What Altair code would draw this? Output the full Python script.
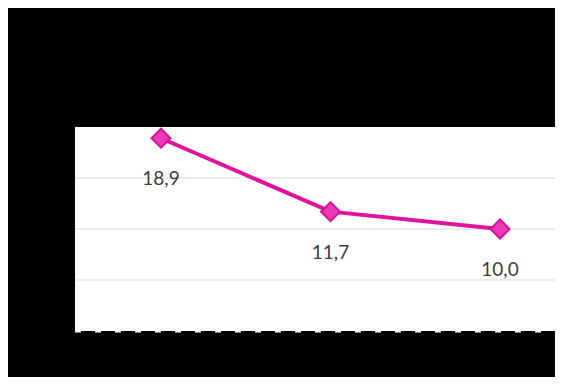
import altair as alt
import pandas as pd

categories = ["1", "2", "3"]
values = [18.9, 11.7, 10.0]
grid_values = [5, 10, 15]

df = pd.DataFrame({"cat": categories, "v": values})
gdf = pd.DataFrame({"g": grid_values})
adf = pd.DataFrame({"g": [0]})

yscale = alt.Scale(domain=[0, 20], nice=False, zero=True)
x = alt.X("cat:O", sort=categories,
          scale=alt.Scale(type="point", range=[86, 425], padding=0),
          axis=None)
y = alt.Y("v:Q", scale=yscale, axis=None)

grid = alt.Chart(gdf).mark_rule(color="#d9d9d9", strokeWidth=1).encode(
    y=alt.Y("g:Q", scale=yscale, axis=None),
    x=alt.value(0), x2=alt.value("width"))
xaxis = alt.Chart(adf).mark_rule(color="#ffffff", strokeWidth=3, strokeDash=[6, 14]).encode(
    y=alt.Y("g:Q", scale=yscale, axis=None),
    x=alt.value(0), x2=alt.value("width"))

base = alt.Chart(df).encode(x=x, y=y)

line = base.mark_line(color="#e0129e", strokeWidth=4)
pts = base.mark_point(shape="diamond", size=360, filled=True, color="#e93bb8",
                      stroke="#d8109a", strokeWidth=2, opacity=1)
txt = base.transform_calculate(
    lbl="replace(format(datum.v, '.1f'), '.', ',')"
).mark_text(dy=41, fontSize=19, font="Lato", color="#404040").encode(text="lbl:N")

chart = (grid + xaxis + line + pts + txt).properties(
    width=480, height=204,
    background="#000000",
    padding={"left": 67, "top": 119, "right": 0, "bottom": 46},
    autosize=alt.AutoSizeParams(type="none"),
).configure_view(fill="#ffffff", stroke=None)

chart.save("out.html", embed_options={"renderer": "svg", "actions": False})
